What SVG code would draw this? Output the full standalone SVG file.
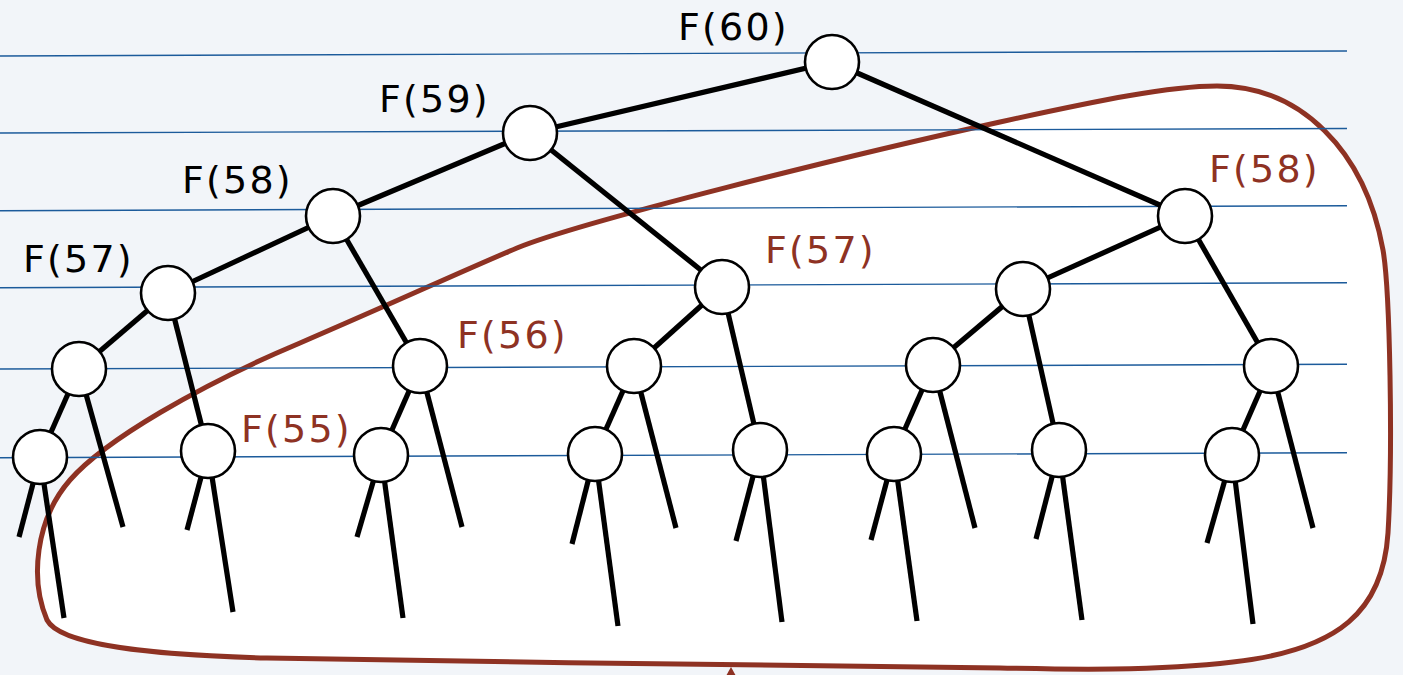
<svg xmlns="http://www.w3.org/2000/svg" width="1403" height="675" viewBox="0 0 1403 675">
<style>
.bg{fill:#f2f5f9}
.region{fill:#ffffff;stroke:#8e3223;stroke-width:5;stroke-linejoin:round}
.grid{stroke:#1c5b9b;stroke-width:1.4;fill:none}
.edge{stroke:#000;stroke-width:5.2;stroke-linecap:butt;fill:none}
.node{fill:#fff;stroke:#000;stroke-width:2.6}
.lbl{font-family:"DejaVu Sans",sans-serif;font-size:38px;letter-spacing:2.2px;fill:#000}
.red{fill:#8e3223}
</style>
<rect class="bg" x="0" y="0" width="1403" height="675"/>
<path class="region" d="M47,620 C30,580 35,520 70,480 C105,440 200,385 300,343 C400,300 460,272 517,248 C580,222 850,155 1000,122 C1100,100 1170,86 1217,86 C1300,86 1365,150 1383,250 C1390,290 1393,450 1388,533 C1383,610 1340,650 1233,662 C1150,672 1050,669 1000,668 C800,666 500,662 267,658 C150,655 60,645 47,620 Z"/>
<polygon class="red" points="731,667 726,676 736,676"/>
<g id="grid">
<line class="grid" x1="0" y1="56" x2="1347" y2="51"/>
<line class="grid" x1="0" y1="133" x2="1347" y2="128.5"/>
<line class="grid" x1="0" y1="210.7" x2="1347" y2="205.7"/>
<line class="grid" x1="0" y1="287.7" x2="1347" y2="282.7"/>
<line class="grid" x1="0" y1="369" x2="1347" y2="364.3"/>
<line class="grid" x1="0" y1="457.7" x2="1347" y2="452.7"/>
</g>
<g id="connectors">
<line class="edge" x1="832" y1="62" x2="530" y2="133"/>
<line class="edge" x1="832" y1="62" x2="1185" y2="216"/>
<line class="edge" x1="530" y1="133" x2="333" y2="216"/>
<line class="edge" x1="530" y1="133" x2="722" y2="287"/>
<line class="edge" x1="333" y1="216" x2="168" y2="293"/>
<line class="edge" x1="333" y1="216" x2="420" y2="366"/>
<line class="edge" x1="168" y1="293" x2="79" y2="369"/>
<line class="edge" x1="168" y1="293" x2="208" y2="451"/>
<line class="edge" x1="79" y1="369" x2="40" y2="457"/>
<line class="edge" x1="79" y1="369" x2="123" y2="527"/>
<line class="edge" x1="40" y1="457" x2="19" y2="537"/>
<line class="edge" x1="40" y1="457" x2="64" y2="618"/>
<line class="edge" x1="208" y1="451" x2="187" y2="530"/>
<line class="edge" x1="208" y1="451" x2="233" y2="612"/>
<line class="edge" x1="420" y1="366" x2="381" y2="455"/>
<line class="edge" x1="420" y1="366" x2="462" y2="527"/>
<line class="edge" x1="381" y1="455" x2="357" y2="537"/>
<line class="edge" x1="381" y1="455" x2="403" y2="618"/>
<line class="edge" x1="722" y1="287" x2="634" y2="366"/>
<line class="edge" x1="722" y1="287" x2="760" y2="450"/>
<line class="edge" x1="634" y1="366" x2="595" y2="454"/>
<line class="edge" x1="634" y1="366" x2="676" y2="528"/>
<line class="edge" x1="595" y1="454" x2="572" y2="544"/>
<line class="edge" x1="595" y1="454" x2="618" y2="626"/>
<line class="edge" x1="760" y1="450" x2="736" y2="541"/>
<line class="edge" x1="760" y1="450" x2="782" y2="622"/>
<line class="edge" x1="1185" y1="216" x2="1023" y2="289"/>
<line class="edge" x1="1185" y1="216" x2="1271" y2="366"/>
<line class="edge" x1="1023" y1="289" x2="933" y2="365"/>
<line class="edge" x1="1023" y1="289" x2="1059" y2="450"/>
<line class="edge" x1="933" y1="365" x2="894" y2="454"/>
<line class="edge" x1="933" y1="365" x2="975" y2="528"/>
<line class="edge" x1="894" y1="454" x2="871" y2="540"/>
<line class="edge" x1="894" y1="454" x2="917" y2="621"/>
<line class="edge" x1="1059" y1="450" x2="1036" y2="539"/>
<line class="edge" x1="1059" y1="450" x2="1082" y2="620"/>
<line class="edge" x1="1271" y1="366" x2="1232" y2="455"/>
<line class="edge" x1="1271" y1="366" x2="1313" y2="528"/>
<line class="edge" x1="1232" y1="455" x2="1207" y2="543"/>
<line class="edge" x1="1232" y1="455" x2="1253" y2="624"/>
</g>
<g id="n60"><circle class="node" cx="832" cy="62" r="27"/><text class="lbl" x="678" y="40">F(60)</text></g>
<g id="n59"><circle class="node" cx="530" cy="133" r="27"/><text class="lbl" x="379" y="112">F(59)</text></g>
<g id="n58a"><circle class="node" cx="333" cy="216" r="27"/><text class="lbl" x="182" y="193">F(58)</text></g>
<g id="n57a"><circle class="node" cx="168" cy="293" r="27"/><text class="lbl" x="23" y="272">F(57)</text></g>
<g id="n56a"><circle class="node" cx="79" cy="369" r="27"/></g>
<g id="n55a"><circle class="node" cx="40" cy="457" r="27"/></g>
<g id="n55b"><circle class="node" cx="208" cy="451" r="27"/><text class="lbl red" x="241" y="442">F(55)</text></g>
<g id="n56b"><circle class="node" cx="420" cy="366" r="27"/><text class="lbl red" x="457" y="348">F(56)</text></g>
<g id="n55c"><circle class="node" cx="381" cy="455" r="27"/></g>
<g id="n57b"><circle class="node" cx="722" cy="287" r="27"/><text class="lbl red" x="765" y="263">F(57)</text></g>
<g id="n56c"><circle class="node" cx="634" cy="366" r="27"/></g>
<g id="n55d"><circle class="node" cx="595" cy="454" r="27"/></g>
<g id="n55e"><circle class="node" cx="760" cy="450" r="27"/></g>
<g id="n58b"><circle class="node" cx="1185" cy="216" r="27"/><text class="lbl red" x="1209" y="182">F(58)</text></g>
<g id="n57c"><circle class="node" cx="1023" cy="289" r="27"/></g>
<g id="n56d"><circle class="node" cx="933" cy="365" r="27"/></g>
<g id="n55f"><circle class="node" cx="894" cy="454" r="27"/></g>
<g id="n55g"><circle class="node" cx="1059" cy="450" r="27"/></g>
<g id="n56e"><circle class="node" cx="1271" cy="366" r="27"/></g>
<g id="n55h"><circle class="node" cx="1232" cy="455" r="27"/></g>
</svg>
